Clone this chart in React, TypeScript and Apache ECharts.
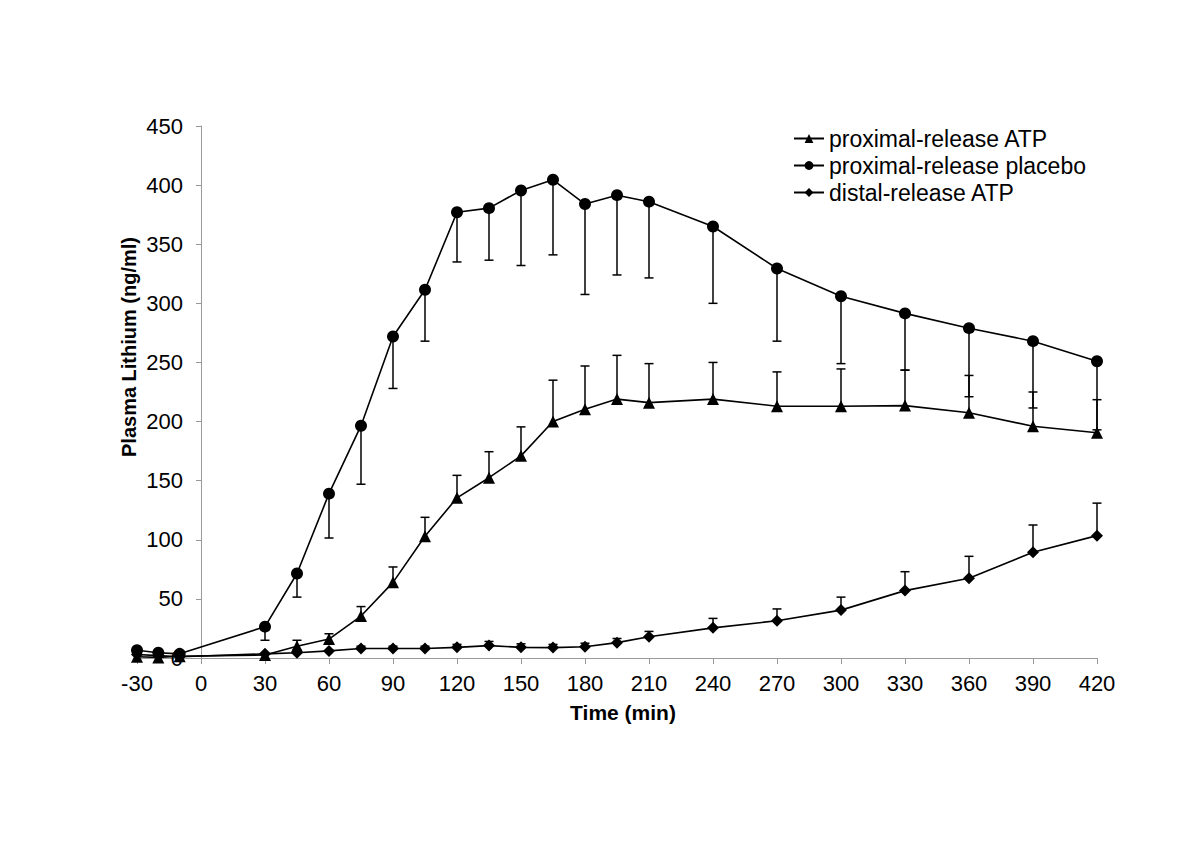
import React, { useEffect, useRef } from "react";
import * as echarts from "echarts";

const times = [-30, -20, -10, 30, 45, 60, 75, 90, 105, 120, 135, 150, 165, 180, 195, 210, 240, 270, 300, 330, 360, 390, 420];

const proxATP = [1, 0.5, 1.5, 2.5, 10, 16, 35.5, 64, 103, 135.5, 152.5, 171, 200, 210.5, 219, 216, 219, 213, 213, 213.5, 207.5, 196, 190.5];
const proxATPUpper = [null, null, null, null, 15, 20.5, 43.5, 77, 119, 154.5, 174.5, 195.5, 235, 247, 256, 249, 250, 242, 244.5, 243.5, 239, 225, 218.5];

const proxPlacebo = [6.5, 4.5, 3.5, 26.5, 71.5, 139, 196.5, 272, 311.5, 377, 380.5, 395.5, 404.5, 384, 391.5, 386, 365, 329.5, 306, 291.5, 279, 268, 251];
const proxPlaceboLower = [null, null, null, 15, 51.5, 101.5, 147, 228, 268, 335, 336.5, 332, 341, 307.5, 324, 321.5, 300, 268, 249, 243.5, 221, 211.5, 193];

const distATP = [3, 2, 1, 3.5, 4.5, 6, 8, 8, 8, 9, 10.5, 9, 8.8, 9.5, 13, 18, 25.5, 31.5, 40.5, 57, 67.5, 89.5, 103.5];
const distATPUpper = [null, null, null, null, 7, null, 10, 10, 10, 11.5, 14, 12, 11.5, 12.5, 16.5, 22.5, 33.5, 41.5, 51.5, 73, 86, 112.5, 131];

const seriesNames = ["proximal-release ATP", "proximal-release placebo", "distal-release ATP"];
const xTitle = "Time (min)";
const yTitle = "Plasma Lithium (ng/ml)";

const FONT = "'Liberation Sans', Arial, sans-serif";

function errData(mean: number[], bound: (number | null)[]) {
  const out: number[][] = [];
  times.forEach((t, i) => {
    const b = bound[i];
    if (b !== null && b !== undefined) out.push([t, mean[i], b]);
  });
  return out;
}

function errorSeries(data: number[][]) {
  return {
    type: "custom",
    silent: true,
    z: 1,
    renderItem: (params: any, api: any) => {
      const x = api.value(0);
      const m = api.value(1);
      const b = api.value(2);
      const p1 = api.coord([x, m]);
      const p2 = api.coord([x, b]);
      const style = { stroke: "#000", lineWidth: 1.5 };
      return {
        type: "group",
        children: [
          { type: "line", shape: { x1: p1[0], y1: p1[1], x2: p2[0], y2: p2[1] }, style },
          { type: "line", shape: { x1: p2[0] - 4.5, y1: p2[1], x2: p2[0] + 4.5, y2: p2[1] }, style },
        ],
      };
    },
    encode: { x: 0, y: [1, 2] },
    data,
  };
}

export default function App() {
  const ref = useRef<HTMLDivElement>(null);
  useEffect(() => {
    if (!ref.current) return;
    const chart = echarts.init(ref.current, null, { renderer: "svg" });
    const lineBase = (name: string, values: number[], symbol: string, size: number) => ({
      name,
      type: "line",
      data: times.map((t, i) => [t, values[i]]),
      symbol,
      symbolSize: size,
      showSymbol: true,
      z: 3,
      itemStyle: { color: "#000" },
      lineStyle: { color: "#000", width: 1.6 },
    });
    chart.setOption({
      animation: false,
      backgroundColor: "#fff",
      textStyle: { fontFamily: FONT },
      grid: { left: 137, right: 103, top: 126, bottom: 190, containLabel: false },
      legend: {
        orient: "vertical",
        left: 788,
        top: 122,
        itemWidth: 30,
        itemHeight: 11,
        itemGap: 4,
        data: seriesNames,
        textStyle: { fontSize: 23, color: "#000", fontFamily: FONT },
      },
      xAxis: {
        type: "value",
        min: -30,
        max: 420,
        interval: 30,
        axisLine: { lineStyle: { color: "#999", width: 1 } },
        axisTick: { show: true, length: 6, lineStyle: { color: "#999" } },
        axisLabel: { fontSize: 22, color: "#000", margin: 14, fontFamily: FONT },
        splitLine: { show: false },
      },
      yAxis: {
        type: "value",
        min: 0,
        max: 450,
        interval: 50,
        position: "left",
        offset: -64,
        axisLine: { show: true, onZero: false, lineStyle: { color: "#999", width: 1 } },
        axisTick: { show: true, length: 5, lineStyle: { color: "#999" } },
        axisLabel: { fontSize: 22, color: "#000", margin: 18, fontFamily: FONT },
        splitLine: { show: false },
      },
      graphic: [
        {
          type: "text",
          x: 129,
          y: 347,
          rotation: Math.PI / 2,
          style: {
            text: yTitle,
            fontSize: 20,
            fontWeight: "bold",
            fontFamily: FONT,
            fill: "#000",
            textAlign: "center",
            textVerticalAlign: "middle",
          },
        },
        {
          type: "text",
          x: 623,
          y: 712,
          style: {
            text: xTitle,
            fontSize: 21,
            fontWeight: "bold",
            fontFamily: FONT,
            fill: "#000",
            textAlign: "center",
            textVerticalAlign: "middle",
          },
        },
      ],
      series: [
        lineBase(seriesNames[0], proxATP, "triangle", 12),
        lineBase(seriesNames[1], proxPlacebo, "circle", 12),
        lineBase(seriesNames[2], distATP, "diamond", 12),
        errorSeries(errData(proxATP, proxATPUpper)),
        errorSeries(errData(proxPlacebo, proxPlaceboLower)),
        errorSeries(errData(distATP, distATPUpper)),
      ],
    });
    return () => chart.dispose();
  }, []);
  return (
    <div
      ref={ref}
      style={{ position: "fixed", left: 0, top: 0, width: 1200, height: 848, background: "#fff" }}
    />
  );
}
